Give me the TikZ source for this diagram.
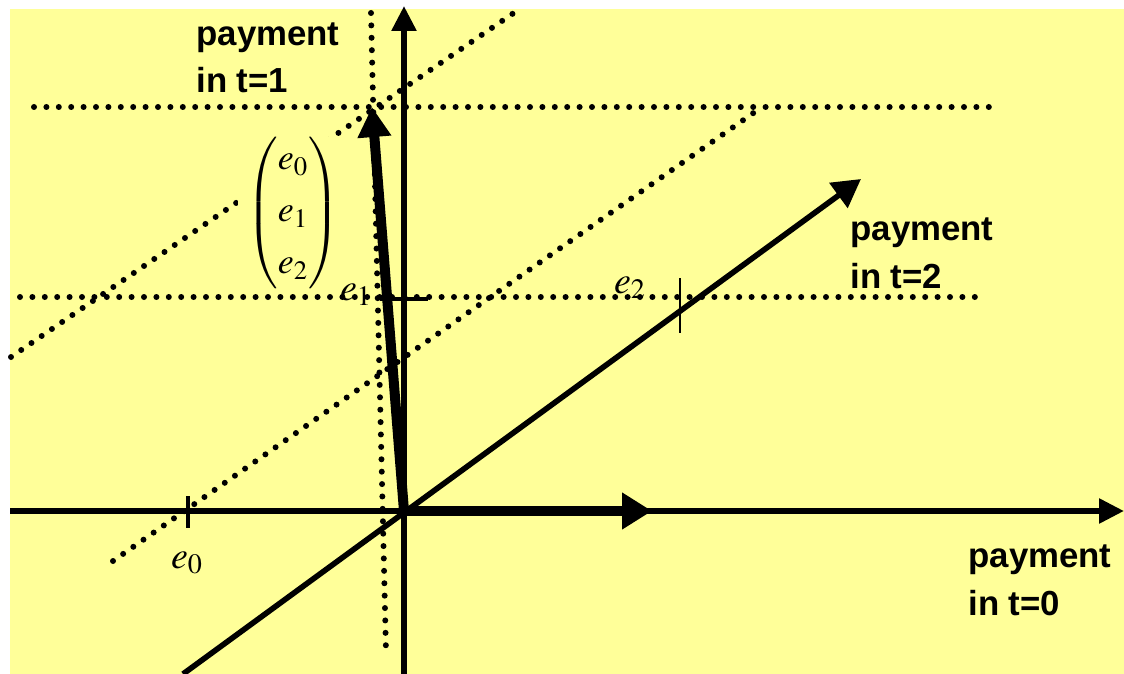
\documentclass[tikz,border=0pt]{standalone}
\usepackage{amsmath}
\usepackage{mathptmx}
\usepackage{fontspec}
\setmainfont{Liberation Serif}
\newfontfamily\labelfont{Liberation Sans}
\definecolor{paper}{RGB}{255,255,153}
\usetikzlibrary{arrows.meta}

\begin{document}
\begin{tikzpicture}[
			x=0.5pt, y=-0.5pt,
			axis/.style={line width=2.8pt, -{Triangle[length=12.5pt, width=12pt]}},
			vec/.style={line width=5pt, -{Triangle[length=15pt, width=16pt]}},
			guide/.style={line width=3pt, line cap=round, dash pattern=on 0pt off 6.2pt},
			tick/.style={line width=2.2pt},
			title/.style={font=\labelfont\bfseries\fontsize{17.4}{24}\selectfont, align=left,
				anchor=base west, inner sep=0pt},
			val/.style={font=\fontsize{19}{22}\selectfont, inner sep=0pt, anchor=base}
			]
			\useasboundingbox (0,0) rectangle (1124,674);
			\fill[white] (0,0) rectangle (1124,674);
			\fill[paper] (10,9) rectangle (1124,674);
			
			\coordinate (O) at (404,511);
			\coordinate (xW) at (10,511);
			\coordinate (xE) at (1124,511);
			\coordinate (yS) at (404,674);
			\coordinate (yN) at (404,6);
			\coordinate (zSW) at (183,674);
			\coordinate (zNE) at (861,179);
			\coordinate (e) at (372,107);
			\coordinate (e0dir) at (652,511);
			
			% budget lines
			\draw[guide] (34,107) -- (998,107);
			\draw[guide] (20,297) -- (985,297);
			\draw[guide] (371,13) -- (386,652);
			\draw[guide] (11,357) -- (521,8);
			\draw[guide] (113,561) -- (762,107);
			
			\node[fill=paper, inner xsep=4pt, inner ysep=0pt, font=\fontsize{18}{22}\selectfont] (vecE) at (293,213)
				{$\begin{pmatrix} e_0\\[4pt] e_1\\[4pt] e_2 \end{pmatrix}$};
			
			\draw[axis] (xW) -- (xE);
			\draw[axis] (yS) -- (yN);
			\draw[axis, -{Triangle[length=14pt, width=15pt]}] (zSW) -- (zNE);
			\draw[vec, -{Triangle[length=15pt, width=17.5pt]}] (O) -- (e0dir);
			\draw[vec] (O) -- (e);
			
			\draw[tick] (188,496) -- (188,528);
			\draw[tick] (380,299) -- (428,299);
			\draw[line width=1pt] (680,278) -- (680,333);
			
			\node[val] (e0) at (187,568) {$e_0$};
			\node[val] (e1) at (356,300) {$e_1$};
			\node[val] (e2) at (630,293) {$e_2$};
			
			\node[title] (t1) at (196,93) {payment\\in t=1};
			\node[title] (t2) at (850,288) {payment\\in t=2};
			\node[title] (t0) at (968,615) {payment\\in t=0};
		\end{tikzpicture}
\end{document}
